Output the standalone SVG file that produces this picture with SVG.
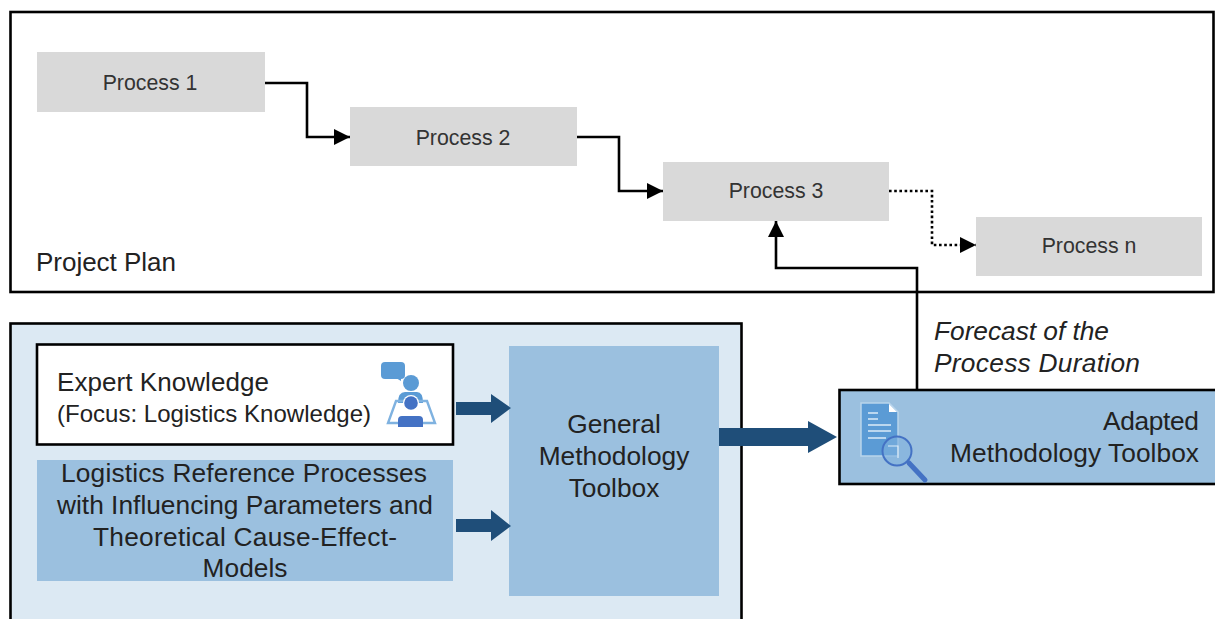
<svg xmlns="http://www.w3.org/2000/svg" width="1215" height="619" viewBox="0 0 1215 619">
<style>
text{font-family:"Liberation Sans",Arial,sans-serif;fill:#222}
.p{fill:#d9d9d9}
.t{font-size:21.300px;text-anchor:middle;fill:#333}
.l{font-size:26px}
.c{font-size:26.300px;text-anchor:middle}
.b{fill:#9bc0df}
.k{fill:none;stroke:#000;stroke-width:2.600}
.fat{fill:#1f4e79}
.i1{fill:#5b9bd5}
.i2{fill:#4472c4}
.f{font-size:26.300px;font-style:italic}
</style>
<defs>
<marker id="a" markerUnits="userSpaceOnUse" markerWidth="17" markerHeight="18" refX="16" refY="9" orient="auto"><path d="M0 1L16 9L0 17Z" fill="#000"/></marker>
</defs>
<rect width="1215" height="619" fill="#fff"/>
<g id="project-plan">
<rect x="10.500" y="12" width="1203" height="280" fill="#fff" stroke="#000" stroke-width="2.600"/>
<text class="l" x="36" y="271" textLength="140">Project Plan</text>
</g>
<g id="process-1"><rect class="p" x="37" y="52" width="228" height="60"/><text class="t" x="150" y="90">Process 1</text></g>
<g id="process-2"><rect class="p" x="350" y="107" width="227" height="59"/><text class="t" x="463" y="145">Process 2</text></g>
<g id="process-3"><rect class="p" x="663" y="162" width="226" height="59"/><text class="t" x="776" y="198">Process 3</text></g>
<g id="process-n"><rect class="p" x="976" y="217" width="226" height="59"/><text class="t" x="1089" y="253">Process n</text></g>
<g id="methodology-panel">
<rect x="10.500" y="323.500" width="731" height="310" fill="#dce9f3" stroke="#000" stroke-width="2.600"/>
</g>
<g id="expert-knowledge">
<rect x="37" y="344.500" width="416" height="100" fill="#fff" stroke="#000" stroke-width="2.600"/>
<text class="l" x="57" y="391" textLength="212">Expert Knowledge</text>
<text x="57" y="422" style="font-size:24px" textLength="314">(Focus: Logistics Knowledge)</text>
<rect class="i1" x="381" y="362" width="24" height="17" rx="4"/>
<path class="i1" d="M396 378L401 381L401 376Z"/>
<circle class="i1" cx="411" cy="383" r="8"/>
<path class="i1" d="M398 403Q398 392 405 392L417 392Q423 392 423 403Z"/>
<path d="M396 401L427 401L435 423L388 423Z" fill="none" stroke="#7fb2e0" stroke-width="2.400"/>
<circle cx="411" cy="403" r="8" fill="#fff"/>
<circle class="i2" cx="411" cy="403" r="6.800"/>
<path class="i2" d="M398 427L398 420Q398 416 402 416L419 416Q423 416 423 420L423 427Z"/>
</g>
<g id="logistics-reference">
<rect class="b" x="37" y="460" width="416" height="121"/>
<text class="c" x="244" y="482" textLength="366">Logistics Reference Processes</text>
<text class="c" x="245" y="514" textLength="376">with Influencing Parameters and</text>
<text class="c" x="245" y="546" textLength="304">Theoretical Cause-Effect-</text>
<text class="c" x="245" y="577">Models</text>
</g>
<g id="general-toolbox">
<rect class="b" x="509" y="346" width="210" height="250"/>
<text class="c" x="614" y="433">General</text>
<text class="c" x="614" y="465">Methodology</text>
<text class="c" x="614" y="497">Toolbox</text>
</g>
<g id="adapted-toolbox">
<rect class="b" x="839.500" y="390" width="378" height="94" stroke="#000" stroke-width="2.600"/>
<text x="1199" y="430" class="c" style="text-anchor:end" textLength="96">Adapted</text>
<text x="1199" y="462" class="c" style="text-anchor:end" textLength="249">Methodology Toolbox</text>
<path class="i1" d="M861 403L889 403L898 412L898 456L861 456Z" stroke="#b9d5ec" stroke-width="1.500"/>
<path d="M889 404L889 412L897 412Z" fill="#fff"/>
<path d="M868 413H878M868 419H878M868 425H891M868 431H891M868 438H886" stroke="#dcebf7" stroke-width="1.500" fill="none"/>
<circle cx="897" cy="451" r="14.500" fill="#7fb0de" fill-opacity=".6" stroke="#4472c4" stroke-width="2"/>
<path d="M909 463L925 480" stroke="#4472c4" stroke-width="5" stroke-linecap="round"/>
<path d="M888 446H898V458" fill="none" stroke="#dcebf7" stroke-width="1.200"/>
</g>
<g id="connectors">
<path class="k" d="M265 83H307V137H350" marker-end="url(#a)"/>
<path class="k" d="M577 137H619V191H663" marker-end="url(#a)"/>
<path class="k" d="M889 191H932V245H976" stroke-dasharray="2.600 2.600" marker-end="url(#a)"/>
<path class="k" d="M917 390V268H776V221" marker-end="url(#a)"/>
<path class="fat" d="M456 402H491V394L511 408L491 423V415H456Z"/>
<path class="fat" d="M456 519H491V510L511 526L491 541V532H456Z"/>
<path class="fat" d="M719 428H808V421L837 437L808 453V446H719Z"/>
</g>
<g id="forecast-label">
<text class="f" x="934" y="340" textLength="175">Forecast of the</text>
<text class="f" x="934" y="372" textLength="206">Process Duration</text>
</g>
</svg>
